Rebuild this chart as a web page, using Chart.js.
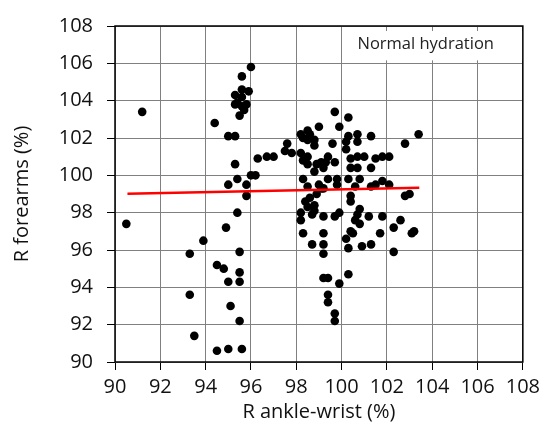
<!DOCTYPE html>
<html>
<head>
<meta charset="utf-8">
<script src="https://cdn.jsdelivr.net/npm/chart.js@4/dist/chart.umd.min.js"></script>
<style>
  body { margin: 0; background: #fff; }
  canvas { display: block; }
</style>
</head>
<body>
<canvas id="scatterChart" width="545" height="427"></canvas>
<script>
// R ankle-wrist (%) vs R forearms (%)
const ankleWrist = [
  90.5, 91.2, 93.3, 93.3, 93.5, 93.9, 94.4, 94.5, 94.8, 94.5, 95.0, 95.6, 94.9, 95.4, 95.5, 95.5,
  95.0, 95.5, 95.1, 95.5, 95.8, 95.0, 95.8, 95.4, 95.3, 95.0, 95.3,
  96.0, 95.6, 95.6, 95.9, 95.3, 95.6, 95.4, 95.6, 95.8, 95.3, 95.7, 95.5,
  96.3, 96.0, 96.2, 96.7, 97.0, 97.6, 97.5, 97.8, 98.2, 98.3, 98.5, 98.5,
  98.2, 98.5, 98.6, 98.3, 98.5, 98.8, 98.8, 99.0, 99.7, 100.3, 99.9, 99.6,
  100.3, 100.2, 100.2, 100.7, 100.7, 101.3, 102.8, 103.4,
  99.4, 98.9, 99.1, 99.3, 99.7, 98.8, 99.2, 100.4, 100.7, 101.0, 101.5, 101.8, 102.1,
  100.4, 100.7, 101.3, 98.3, 98.5, 99.0, 99.1, 99.4, 99.8, 99.8, 99.2,
  100.3, 100.8, 100.6, 101.3, 101.5, 101.8, 102.1, 102.8, 103.0, 100.4, 100.4,
  98.4, 98.6, 98.5, 98.8, 98.8, 98.7, 98.2, 98.2, 99.2, 99.7, 99.9,
  100.8, 100.7, 100.6, 100.8, 101.2, 101.8, 102.6, 102.3, 103.1, 103.2,
  98.3, 99.2, 100.4, 100.5, 101.7, 100.2, 98.7, 99.2, 100.3, 100.9, 101.3, 102.3,
  99.2, 99.2, 99.4, 100.3, 99.9, 99.4, 99.4, 99.7, 99.7, 98.9
];
const forearms = [
  97.4, 103.4, 95.8, 93.6, 91.4, 96.5, 102.8, 95.2, 95.0, 90.6, 90.7, 90.7, 97.2, 98.0, 95.9, 94.8,
  94.3, 94.3, 93.0, 92.2, 98.9, 99.5, 99.5, 99.8, 100.6, 102.1, 102.1,
  105.8, 105.3, 104.6, 104.5, 104.3, 104.2, 103.9, 103.7, 103.8, 103.8, 103.5, 103.2,
  100.9, 100.0, 100.0, 101.0, 101.0, 101.7, 101.3, 101.2, 101.2, 100.8, 101.0, 100.6,
  102.2, 102.4, 102.2, 102.0, 101.9, 101.9, 101.6, 102.6, 103.4, 103.1, 102.6, 101.7,
  102.1, 101.8, 101.4, 102.2, 101.8, 102.1, 101.7, 102.2,
  101.0, 100.6, 100.7, 100.7, 100.7, 100.2, 100.4, 100.9, 101.0, 101.0, 100.9, 101.0, 101.0,
  100.4, 100.4, 100.4, 99.8, 99.4, 99.5, 99.3, 99.8, 99.8, 99.5, 99.3,
  99.8, 99.8, 99.4, 99.4, 99.5, 99.7, 99.5, 98.9, 99.0, 98.9, 98.6,
  98.6, 98.8, 98.3, 98.4, 98.1, 97.9, 98.0, 97.6, 97.8, 97.8, 98.0,
  98.2, 97.9, 97.6, 97.4, 97.8, 97.8, 97.6, 97.2, 96.9, 97.0,
  96.9, 96.9, 97.0, 96.9, 96.9, 96.6, 96.3, 96.3, 96.1, 96.2, 96.3, 95.9,
  95.8, 94.5, 94.5, 94.7, 94.2, 93.6, 93.2, 92.6, 92.2, 99.0
];

// fitted trend line, end points
const trendX = [90.55, 103.43];
const trendY = [99.01, 99.33];

const xTickValues = [90, 92, 94, 96, 98, 100, 102, 104, 106, 108];
const yTickValues = [90, 92, 94, 96, 98, 100, 102, 104, 106, 108];

const boxLabel = "Normal hydration";

const points = ankleWrist.map((x, i) => ({ x, y: forearms[i] }));
const trend = trendX.map((x, i) => ({ x, y: trendY[i] }));

const fontFamily = "'Open Sans', sans-serif";

// frame around the plot plus the white label panel in the top right
const framePlugin = {
  id: "frame",
  beforeDatasetsDraw(chart) {
    const { ctx, chartArea: a, scales } = chart;
    ctx.save();
    const left = scales.x.getPixelForValue(100) + 1;
    const top = a.top + 5;
    const bottom = scales.y.getPixelForValue(106) - 3;
    ctx.fillStyle = "#fff";
    ctx.fillRect(left, top, a.right - left, bottom - top);
    ctx.fillStyle = "#222";
    ctx.font = "16.5px " + fontFamily;
    ctx.textAlign = "center";
    ctx.textBaseline = "middle";
    ctx.fillText(boxLabel, (left + a.right) / 2 - 7, (top + bottom) / 2 - 1);

    ctx.strokeStyle = "#000";
    ctx.lineWidth = 1.5;
    ctx.strokeRect(a.left, a.top, a.right - a.left, a.bottom - a.top);
    ctx.restore();
  }
};

const ctx = document.getElementById("scatterChart").getContext("2d");

new Chart(ctx, {
  type: "scatter",
  data: {
    datasets: [
      {
        data: points,
        backgroundColor: "#000",
        borderWidth: 0,
        pointRadius: 4.3,
        pointHoverRadius: 4.3,
        order: 2
      },
      {
        data: trend,
        showLine: true,
        borderColor: "#ff0000",
        borderWidth: 2.5,
        pointRadius: 0,
        order: 1
      }
    ]
  },
  options: {
    responsive: false,
    animation: false,
    layout: { padding: { top: 21, right: 19, left: 0, bottom: 0 } },
    plugins: {
      legend: { display: false },
      tooltip: { enabled: false }
    },
    scales: {
      x: {
        type: "linear",
        min: 90,
        max: 108,
        afterBuildTicks: (scale) => { scale.ticks = xTickValues.map(v => ({ value: v })); },
        afterFit: (scale) => { scale.height = 65; },
        border: { display: false },
        grid: { color: "#808080", lineWidth: 1, tickLength: 8, tickColor: "#000" },
        ticks: { color: "#111", font: { family: fontFamily, size: 20 }, padding: 5, maxRotation: 0, autoSkip: false },
        title: {
          display: true,
          text: "R ankle-wrist (%)",
          color: "#111",
          font: { family: fontFamily, size: 20 },
          padding: { top: 0, bottom: 3 }
        }
      },
      y: {
        type: "linear",
        min: 90,
        max: 108,
        afterBuildTicks: (scale) => { scale.ticks = yTickValues.map(v => ({ value: v })); },
        afterFit: (scale) => { scale.width = 115; },
        border: { display: false },
        grid: { color: "#808080", lineWidth: 1, tickLength: 8, tickColor: "#000" },
        ticks: { color: "#111", font: { family: fontFamily, size: 20 }, padding: 14, autoSkip: false },
        title: {
          display: true,
          text: "R forearms (%)",
          color: "#111",
          font: { family: fontFamily, size: 20 },
          padding: { top: 10, bottom: 0 }
        }
      }
    }
  },
  plugins: [framePlugin]
});
</script>
</body>
</html>
